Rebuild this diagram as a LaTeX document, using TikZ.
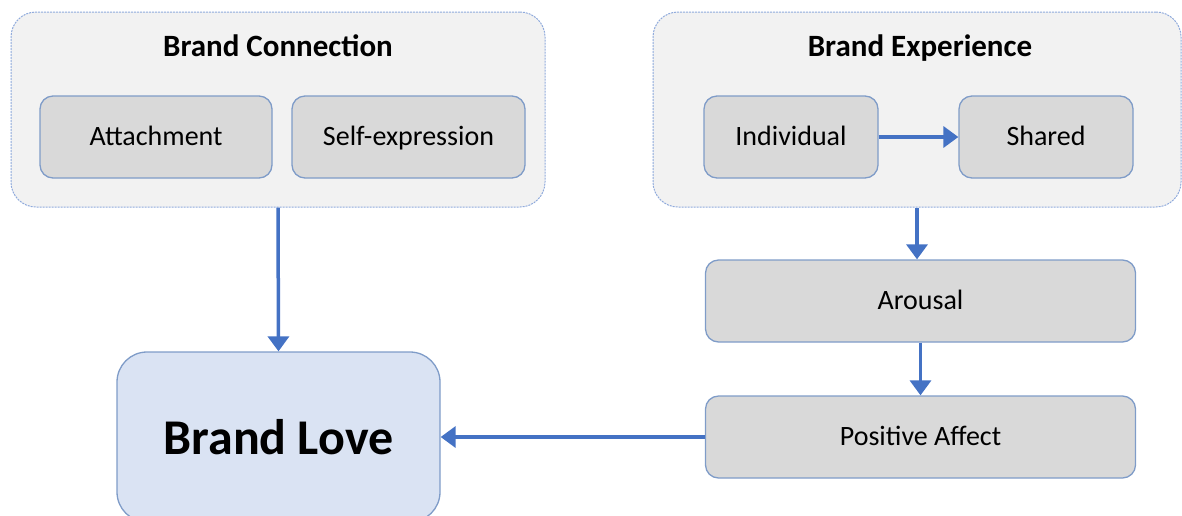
\documentclass[tikz,border=0pt]{standalone}
\usepackage{fontspec}
\setmainfont{Carlito}
\usetikzlibrary{arrows.meta}
\definecolor{contfill}{HTML}{F2F2F2}
\definecolor{contline}{HTML}{8FAADC}
\definecolor{boxfill}{HTML}{D9D9D9}
\definecolor{boxline}{HTML}{7F9CC8}
\definecolor{lovefill}{HTML}{DAE3F3}
\definecolor{arrowc}{HTML}{4472C4}
\tikzset{
  container/.style={draw=contline, fill=contfill, line width=1pt, dash pattern=on 2pt off 1pt, rounded corners=25pt, inner sep=0pt},
  ttl/.style={font=\fontsize{31}{36}\selectfont\bfseries, inner sep=0pt, text height=19.5pt, text depth=0pt},
  innerbox/.style={draw=boxline, fill=boxfill, line width=1.3pt, rounded corners=13pt, minimum height=82pt, inner sep=0pt, font=\fontsize{28}{33}\selectfont, text height=17.6pt, text depth=0pt},
  lovebox/.style={draw=boxline, fill=lovefill, line width=1.3pt, rounded corners=30pt, inner sep=0pt, font=\fontsize{50}{58}\selectfont\bfseries},
  flow/.style={draw=arrowc, line width=3.5pt, -{Triangle[width=21pt,length=15pt]}}
}
\begin{document}
\begin{tikzpicture}[x=1pt,y=-1pt]
\useasboundingbox (0,0) rectangle (1182,515);
\clip (0,0) rectangle (1182,515);
% containers
\node[container, minimum width=534pt, minimum height=195pt] (bc) at (278,109.5) {};
\node[ttl] (bct) at (278,47) {Brand Connection};
\node[container, minimum width=528pt, minimum height=195pt] (be) at (917,109.5) {};
\node[ttl] (bet) at (920,47) {Brand Experience};
% inner boxes
\node[innerbox, minimum width=232pt] (att) at (156,137) {Attachment};
\node[innerbox, minimum width=233pt] (self) at (408.5,137) {Self-expression};
\node[innerbox, minimum width=174pt] (ind) at (791,137) {Individual};
\node[innerbox, minimum width=174pt] (sha) at (1046,137) {Shared};
\node[innerbox, minimum width=430pt] (aro) at (920.5,301) {Arousal};
\node[innerbox, minimum width=430pt] (pos) at (920.5,437) {Positive Affect};
\node[lovebox, minimum width=323pt, minimum height=170pt] (love) at (278.5,437) {Brand Love};
% arrows
\draw[flow] (ind.east) -- (sha.west);
\draw[flow] (bc.south) -- (love.north);
\draw[flow] (be.south) -- (be.south |- aro.north);
\draw[flow] (aro.south) -- (pos.north);
\draw[flow] (pos.west) -- (love.east);
\end{tikzpicture}
\end{document}
